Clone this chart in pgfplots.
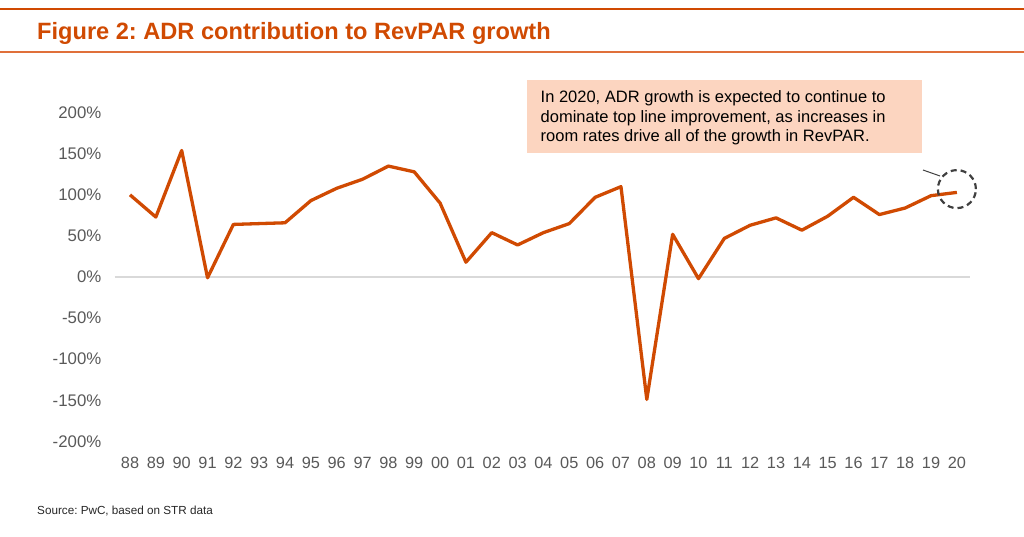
\documentclass[border=0pt]{standalone}
\usepackage{pgfplots}
\pgfplotsset{compat=1.18}
\usepackage{fontspec}
\setmainfont{Liberation Sans}
\definecolor{pwcorange}{HTML}{D04A02}
\definecolor{pwcline}{HTML}{E0703A}
\definecolor{tickgray}{HTML}{595959}
\definecolor{boxpeach}{HTML}{FCD5C0}
\definecolor{zerogray}{HTML}{D9D9D9}
\definecolor{circgray}{HTML}{404040}
\frenchspacing
\begin{document}
\begin{tikzpicture}[x=1pt,y=1pt]
\path[use as bounding box] (0,0) rectangle (1024,536);
% header rules and title
\draw[pwcorange, line width=1.5pt] (0,527) -- (1024,527);
\draw[pwcline, line width=2.5pt] (0,484) -- (1024,484);
\node[anchor=base west, inner sep=0pt, text=pwcorange, font=\fontsize{23.6}{27}\selectfont\bfseries] at (37,496) {Figure 2: ADR contribution to RevPAR growth};
% axis
\begin{axis}[
  at={(114.5pt,94.7pt)}, anchor=south west,
  scale only axis, width=855.3pt, height=328.6pt,
  xmin=-0.6, xmax=32.5, ymin=-200, ymax=200,
  axis line style={draw=none},
  major tick length=0pt,
  xtick={0,...,32},
  xticklabels={88,89,90,91,92,93,94,95,96,97,98,99,00,01,02,03,04,05,06,07,08,09,10,11,12,13,14,15,16,17,18,19,20},
  ytick={-200,-150,-100,-50,0,50,100,150,200},
  yticklabels={-200\%,-150\%,-100\%,-50\%,0\%,50\%,100\%,150\%,200\%},
  x tick label style={font=\fontsize{16.3}{18}\selectfont, text=tickgray, inner sep=0pt, anchor=north, yshift=-16pt},
  y tick label style={font=\fontsize{16.8}{18}\selectfont, text=tickgray, inner sep=0pt, anchor=east, xshift=-13pt},
  clip=false,
]
\draw[zerogray, line width=1.2pt] (axis cs:-0.6,0) -- (axis cs:32.5,0);
\addplot[pwcorange, line width=3.3pt, line join=round, mark=none] coordinates {
(0,100) (1,73) (2,154) (3,-1) (4,64) (5,65) (6,66) (7,93) (8,108) (9,119)
(10,135) (11,128) (12,90) (13,18) (14,54) (15,39) (16,54) (17,65) (18,97) (19,110)
(20,-149) (21,52) (22,-2) (23,47) (24,63) (25,72) (26,57) (27,74) (28,97) (29,76)
(30,84) (31,99) (32,103)
};
\draw[circgray, line width=2.2pt, dash pattern=on 6pt off 4pt] (axis cs:32,107) circle[radius=19pt];
\end{axis}
% leader line
\draw[circgray, line width=1pt] (923,366) -- (940,360);
% annotation box
\fill[boxpeach] (527,383) rectangle (922,456);
\node[anchor=base west, inner sep=0pt, font=\fontsize{16.5}{19}\selectfont] at (540.5,433) {In 2020, ADR growth is expected to continue to};
\node[anchor=base west, inner sep=0pt, font=\fontsize{16.5}{19}\selectfont] at (540.5,413.8) {dominate top line improvement, as increases in};
\node[anchor=base west, inner sep=0pt, font=\fontsize{16.5}{19}\selectfont] at (540.5,394.4) {room rates drive all of the growth in RevPAR.};
% source
\node[anchor=base west, inner sep=0pt, text=black!85, font=\fontsize{11.7}{14}\selectfont] at (37,22) {Source: PwC, based on STR data};
\end{tikzpicture}
\end{document}
